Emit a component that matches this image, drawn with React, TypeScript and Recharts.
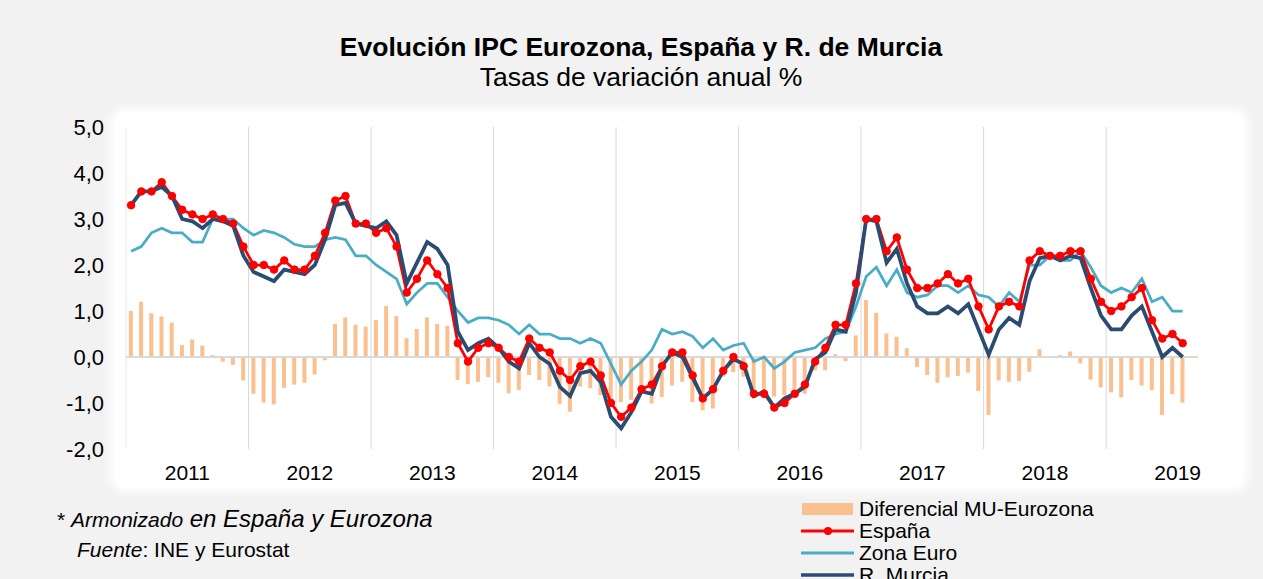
import React from "react";
import { Bar, ComposedChart, Line, ReferenceLine, XAxis, YAxis } from "recharts";

const years = [2011, 2012, 2013, 2014, 2015, 2016, 2017, 2018, 2019];

const espana = [
  3.3, 3.6, 3.6, 3.8, 3.5, 3.2, 3.1, 3.0, 3.1, 3.0, 2.9, 2.4,
  2.0, 2.0, 1.9, 2.1, 1.9, 1.9, 2.2, 2.7, 3.4, 3.5, 2.9, 2.9,
  2.7, 2.8, 2.4, 1.4, 1.7, 2.1, 1.8, 1.5, 0.3, -0.1, 0.2, 0.3,
  0.2, 0.0, -0.1, 0.4, 0.2, 0.1, -0.3, -0.5, -0.2, -0.1, -0.4, -1.0,
  -1.3, -1.1, -0.7, -0.6, -0.2, 0.1, 0.1, -0.4, -0.9, -0.7, -0.3, 0.0,
  -0.2, -0.8, -0.8, -1.1, -1.0, -0.8, -0.6, -0.1, 0.2, 0.7, 0.7, 1.6,
  3.0, 3.0, 2.3, 2.6, 1.9, 1.5, 1.5, 1.6, 1.8, 1.6, 1.7, 1.1,
  0.6, 1.1, 1.2, 1.1, 2.1, 2.3, 2.2, 2.2, 2.3, 2.3, 1.7, 1.2,
  1.0, 1.1, 1.3, 1.5, 0.8, 0.4, 0.5, 0.3,
];

const zonaEuro = [
  2.3, 2.4, 2.7, 2.8, 2.7, 2.7, 2.5, 2.5, 3.0, 3.0, 3.0, 2.8,
  2.65, 2.75, 2.7, 2.6, 2.45, 2.4, 2.4, 2.55, 2.6, 2.55, 2.2, 2.2,
  2.0, 1.85, 1.7, 1.15, 1.4, 1.6, 1.6, 1.3, 1.0, 0.75, 0.85, 0.85,
  0.8, 0.7, 0.5, 0.7, 0.5, 0.5, 0.4, 0.4, 0.3, 0.4, 0.3, -0.15,
  -0.6, -0.3, -0.1, 0.15, 0.6, 0.5, 0.55, 0.45, 0.2, 0.4, 0.15, 0.25,
  0.3, -0.1, 0.0, -0.25, -0.1, 0.1, 0.15, 0.2, 0.4, 0.5, 0.55, 1.1,
  1.75, 1.95, 1.55, 1.9, 1.4, 1.3, 1.35, 1.55, 1.55, 1.4, 1.55, 1.35,
  1.3, 1.1, 1.4, 1.2, 2.0, 2.0, 2.2, 2.1, 2.1, 2.3, 1.95, 1.55,
  1.4, 1.5, 1.4, 1.7, 1.2, 1.3, 1.0, 1.0,
];

const murcia = [
  3.3, 3.6, 3.6, 3.7, 3.5, 3.0, 2.95, 2.8, 3.0, 2.95, 2.85, 2.2,
  1.85, 1.75, 1.65, 1.9, 1.85, 1.8, 2.0, 2.55, 3.3, 3.35, 2.9, 2.85,
  2.8, 2.95, 2.65, 1.6, 2.05, 2.5, 2.35, 2.0, 0.55, 0.15, 0.3, 0.4,
  0.2, -0.1, -0.25, 0.3, 0.0, -0.15, -0.65, -0.85, -0.35, -0.3, -0.55, -1.3,
  -1.55, -1.2, -0.75, -0.8, -0.2, 0.1, 0.0, -0.45, -0.9, -0.7, -0.3, -0.05,
  -0.15, -0.85, -0.75, -1.1, -0.9, -0.8, -0.65, -0.05, 0.1, 0.6, 0.55, 1.4,
  3.0, 2.95, 2.05, 2.35, 1.6, 1.1, 0.95, 0.95, 1.1, 0.95, 1.15, 0.6,
  0.05, 0.6, 0.85, 0.7, 1.65, 2.15, 2.2, 2.1, 2.2, 2.15, 1.5, 0.9,
  0.6, 0.6, 0.9, 1.1, 0.55, 0.0, 0.2, 0.0,
];

// Murcia menos Eurozona
const diferencial = [
  1.0, 1.2, 0.95, 0.88, 0.75, 0.26, 0.38, 0.25, 0.04, -0.1, -0.17, -0.51,
  -0.8, -0.99, -1.03, -0.67, -0.6, -0.56, -0.38, -0.07, 0.72, 0.86, 0.7, 0.66,
  0.8, 1.11, 0.89, 0.41, 0.61, 0.86, 0.72, 0.68, -0.5, -0.59, -0.54, -0.44,
  -0.56, -0.79, -0.72, -0.39, -0.5, -0.64, -1.02, -1.19, -0.64, -0.68, -0.83, -0.95,
  -0.98, -0.93, -0.76, -1.01, -0.87, -0.62, -0.54, -0.98, -1.16, -1.12, -0.43, -0.33,
  -0.43, -0.76, -0.83, -0.86, -0.83, -0.78, -0.8, -0.29, -0.29, 0.06, -0.09, 0.47,
  1.24, 0.96, 0.51, 0.44, 0.19, -0.22, -0.39, -0.56, -0.44, -0.41, -0.34, -0.74,
  -1.26, -0.51, -0.54, -0.52, -0.32, 0.17, 0.0, 0.04, 0.12, -0.14, -0.49, -0.66,
  -0.77, -0.88, -0.5, -0.62, -0.72, -1.26, -0.81, -0.99,
];

const yTicks = [-2, -1, 0, 1, 2, 3, 4, 5];
// label under each year (July, or August for the partial 2019)
const yearTicks = ["2011-07", "2012-07", "2013-07", "2014-07", "2015-07", "2016-07", "2017-07", "2018-07", "2019-08"];
const yearStarts = ["2012-01", "2013-01", "2014-01", "2015-01", "2016-01", "2017-01", "2018-01", "2019-01"];

const meses = years
  .flatMap((y) => Array.from({ length: 12 }, (_, m) => `${y}-${String(m + 1).padStart(2, "0")}`))
  .slice(0, 105);

const data = meses.map((mes, i) => ({
  mes,
  espana: espana[i] ?? null,
  zonaEuro: zonaEuro[i] ?? null,
  murcia: murcia[i] ?? null,
  diferencial: diferencial[i] ?? null,
}));

const FONT = "'Liberation Sans', Arial, sans-serif";
const C_BAR = "#FAC090";
const C_ESP = "#FF0000";
const C_EUR = "#4BACC6";
const C_MUR = "#2A4B72";

const YearTick = (props: any) => {
  const { x, y, payload } = props;
  return (
    <text x={x - 5} y={y} dy="0.71em" textAnchor="middle" fontSize={21} fill="#000" fontFamily={FONT}>
      {String(payload.value).slice(0, 4)}
    </text>
  );
};

const Overlay: React.FC = () => (
  <svg width={1263} height={579} style={{ position: "absolute", left: 0, top: 0, pointerEvents: "none" }} fontFamily={FONT}>
    <text x={641} y={56} textAnchor="middle" fontSize={26.5} fontWeight="bold" fill="#000">
      Evolución IPC Eurozona, España y R. de Murcia
    </text>
    <text x={641} y={86} textAnchor="middle" fontSize={26.5} fill="#000">
      Tasas de variación anual %
    </text>

    <text x={57} y={527} fill="#000">
      <tspan fontSize={21}>* </tspan>
      <tspan fontSize={21} fontStyle="italic">Armonizado</tspan>
      <tspan fontSize={24} fontStyle="italic"> en España y Eurozona</tspan>
    </text>
    <text x={77} y={557} fontSize={21} fill="#000">
      <tspan fontStyle="italic">Fuente</tspan>
      <tspan>: INE y Eurostat</tspan>
    </text>

    <rect x={802} y={503} width={51} height={12} fill={C_BAR} />
    <text x={859} y={516} fontSize={21} fill="#000">Diferencial MU-Eurozona</text>
    <line x1={801} x2={854} y1={531} y2={531} stroke={C_ESP} strokeWidth={3} />
    <circle cx={828} cy={531} r={4} fill={C_ESP} />
    <text x={859} y={538} fontSize={21} fill="#000">España</text>
    <line x1={801} x2={854} y1={553} y2={553} stroke={C_EUR} strokeWidth={3} />
    <text x={859} y={560} fontSize={21} fill="#000">Zona Euro</text>
    <line x1={801} x2={854} y1={575} y2={575} stroke={C_MUR} strokeWidth={3.5} />
    <text x={859} y={582} fontSize={21} fill="#000">R. Murcia</text>
  </svg>
);

const App: React.FC = () => {
  return (
    <div style={{ position: "absolute", left: 0, top: 0, width: 1263, height: 579, background: "#F2F2F2", overflow: "hidden" }}>
      <div
        style={{
          position: "absolute",
          left: 114,
          top: 112,
          width: 1130,
          height: 376,
          background: "#FFFFFF",
          borderRadius: 12,
          boxShadow: "0 0 10px 5px rgba(255,255,255,0.85)",
        }}
      />
      <div style={{ position: "absolute", left: 0, top: 0 }}>
        <ComposedChart
          width={1263}
          height={579}
          data={data}
          margin={{ top: 127, right: 65, bottom: 100, left: 66 }}
          barCategoryGap="28%"
        >
          <XAxis
            dataKey="mes"
            ticks={yearTicks}
            interval={0}
            axisLine={false}
            tickLine={false}
            tickMargin={10}
            height={30}
            tick={<YearTick />}
          />
          <YAxis
            domain={[-2, 5]}
            ticks={yTicks}
            width={60}
            tickMargin={16}
            tickLine={false}
            axisLine={{ stroke: "#E6E6E6" }}
            tickFormatter={(v: number) => v.toFixed(1).replace(".", ",")}
            tick={{ fontSize: 22, fill: "#000", fontFamily: FONT }}
            allowDataOverflow
          />
          {yearStarts.map((m) => (
            <ReferenceLine key={m} x={m} position="start" stroke="#D9D9D9" strokeWidth={1} />
          ))}
          <Bar dataKey="diferencial" fill={C_BAR} isAnimationActive={false} />
          <ReferenceLine y={0} stroke="#D9D9D9" strokeWidth={2} />
          <Line
            type="linear"
            dataKey="zonaEuro"
            stroke={C_EUR}
            strokeWidth={2.75}
            dot={false}
            isAnimationActive={false}
          />
          <Line
            type="linear"
            dataKey="espana"
            stroke={C_ESP}
            strokeWidth={2.75}
            dot={{ r: 3.75, fill: C_ESP, stroke: C_ESP, strokeWidth: 1 }}
            isAnimationActive={false}
          />
          <Line
            type="linear"
            dataKey="murcia"
            stroke={C_MUR}
            strokeWidth={3.75}
            dot={false}
            isAnimationActive={false}
          />
        </ComposedChart>
      </div>
      <Overlay />
    </div>
  );
};

export default App;
